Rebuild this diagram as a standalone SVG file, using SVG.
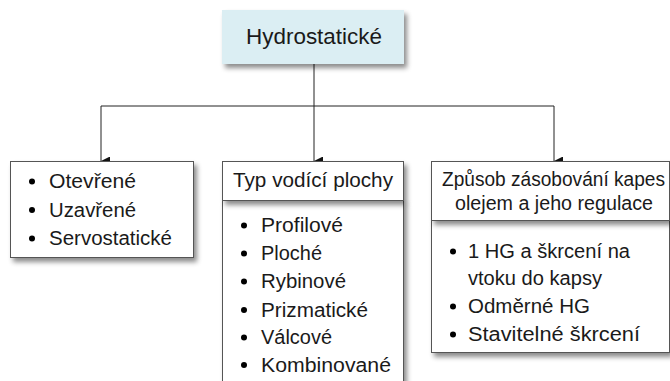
<svg xmlns="http://www.w3.org/2000/svg" width="670" height="381" viewBox="0 0 670 381">
<style>
text{font-family:"Liberation Sans",Arial,sans-serif;font-size:20px;fill:#1a1a1a}
.t{font-size:22px}
.box{fill:#fff;stroke:#555;stroke-width:1}
.top{fill:#dbeef3}
.c{stroke:#222;stroke-width:1;fill:none}
</style>
<defs>
<filter id="sh" x="-10%" y="-10%" width="130%" height="140%">
<feDropShadow dx="3" dy="4" stdDeviation="2.5" flood-color="#000" flood-opacity="0.45"/>
</filter>
<marker id="ar" markerWidth="9" markerHeight="9" refX="4.5" refY="9" orient="auto-start-reverse" markerUnits="userSpaceOnUse" viewBox="0 0 9 9">
<path d="M0,0 L9,0 L4.5,9 Z" fill="#111"/>
</marker>
</defs>
<g id="connectors">
<path class="c" d="M314,64 V106"/>
<path class="c" d="M101,106 H554"/>
<line class="c" x1="101" y1="106" x2="101" y2="161" marker-end="url(#ar)"/>
<line class="c" x1="314" y1="106" x2="314" y2="161" marker-end="url(#ar)"/>
<line class="c" x1="554" y1="106" x2="554" y2="161" marker-end="url(#ar)"/>
</g>
<g id="node-hydrostaticke">
<rect class="top" x="222" y="10" width="182" height="54" filter="url(#sh)"/>
<text class="t" x="246" y="44" textLength="136" lengthAdjust="spacingAndGlyphs">Hydrostatické</text>
</g>
<g id="node-typy">
<rect class="box" x="10.5" y="161.5" width="183" height="96" filter="url(#sh)"/>
<circle cx="32" cy="181.5" r="3"/>
<text x="49" y="188" textLength="87" lengthAdjust="spacingAndGlyphs">Otevřené</text>
<circle cx="32" cy="210" r="3"/>
<text x="49" y="216.5" textLength="87" lengthAdjust="spacingAndGlyphs">Uzavřené</text>
<circle cx="32" cy="238.5" r="3"/>
<text x="49" y="245" textLength="123" lengthAdjust="spacingAndGlyphs">Servostatické</text>
</g>
<g id="node-vodici-plochy">
<rect class="box" x="222.5" y="200.5" width="181" height="200" filter="url(#sh)"/>
<rect class="box" x="222.5" y="161.5" width="181" height="39" filter="url(#sh)"/>
<text x="233" y="187" textLength="160" lengthAdjust="spacingAndGlyphs">Typ vodící plochy</text>
<circle cx="244" cy="225.5" r="3"/>
<text x="261" y="232" textLength="82" lengthAdjust="spacingAndGlyphs">Profilové</text>
<circle cx="244" cy="253.5" r="3"/>
<text x="261" y="260" textLength="61" lengthAdjust="spacingAndGlyphs">Ploché</text>
<circle cx="244" cy="281.5" r="3"/>
<text x="261" y="288" textLength="85" lengthAdjust="spacingAndGlyphs">Rybinové</text>
<circle cx="244" cy="310" r="3"/>
<text x="261" y="316.5" textLength="107" lengthAdjust="spacingAndGlyphs">Prizmatické</text>
<circle cx="244" cy="337.5" r="3"/>
<text x="261" y="344" textLength="71" lengthAdjust="spacingAndGlyphs">Válcové</text>
<circle cx="244" cy="365" r="3"/>
<text x="261" y="371.5" textLength="130" lengthAdjust="spacingAndGlyphs">Kombinované</text>
</g>
<g id="node-zasobovani">
<rect class="box" x="431.5" y="220.5" width="238" height="132" filter="url(#sh)"/>
<rect class="box" x="431.5" y="161.5" width="238" height="59" filter="url(#sh)"/>
<text x="442" y="186" textLength="223" lengthAdjust="spacingAndGlyphs">Způsob zásobování kapes</text>
<text x="455" y="210" textLength="198" lengthAdjust="spacingAndGlyphs">olejem a jeho regulace</text>
<circle cx="453" cy="251.5" r="3"/>
<text x="468" y="258" textLength="162" lengthAdjust="spacingAndGlyphs">1 HG a škrcení na</text>
<text x="468" y="285" textLength="134" lengthAdjust="spacingAndGlyphs">vtoku do kapsy</text>
<circle cx="453" cy="306.5" r="3"/>
<text x="468" y="313" textLength="122" lengthAdjust="spacingAndGlyphs">Odměrné HG</text>
<circle cx="453" cy="334.5" r="3"/>
<text x="468" y="341" textLength="172" lengthAdjust="spacingAndGlyphs">Stavitelné škrcení</text>
</g>
</svg>
